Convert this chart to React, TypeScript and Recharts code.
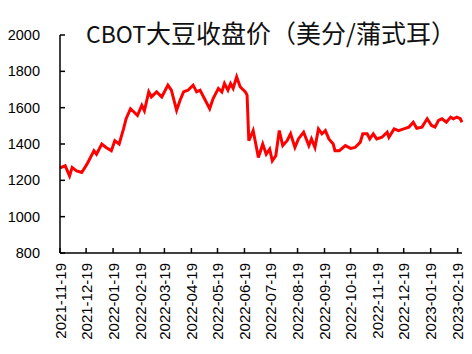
import { Line, LineChart, XAxis, YAxis } from "recharts";

const dates = [
  "2021-11-19", "2021-11-25", "2021-11-30", "2021-12-03", "2021-12-08", "2021-12-14",
  "2021-12-20", "2021-12-28", "2021-12-31", "2022-01-06", "2022-01-11", "2022-01-17",
  "2022-01-21", "2022-01-26", "2022-01-31", "2022-02-03", "2022-02-08", "2022-02-12",
  "2022-02-16", "2022-02-21", "2022-02-24", "2022-03-01", "2022-03-04", "2022-03-10",
  "2022-03-16", "2022-03-23", "2022-03-27", "2022-04-02", "2022-04-06", "2022-04-10",
  "2022-04-15", "2022-04-21", "2022-04-25", "2022-04-29", "2022-05-05", "2022-05-10",
  "2022-05-14", "2022-05-20", "2022-05-24", "2022-05-27", "2022-05-31", "2022-06-03",
  "2022-06-06", "2022-06-10", "2022-06-14", "2022-06-20", "2022-06-22", "2022-06-24",
  "2022-06-29", "2022-07-05", "2022-07-10", "2022-07-14", "2022-07-18", "2022-07-21",
  "2022-07-25", "2022-07-29", "2022-08-02", "2022-08-07", "2022-08-11", "2022-08-16",
  "2022-08-20", "2022-08-26", "2022-09-01", "2022-09-04", "2022-09-08", "2022-09-12",
  "2022-09-16", "2022-09-20", "2022-09-24", "2022-09-29", "2022-10-01", "2022-10-06",
  "2022-10-13", "2022-10-19", "2022-10-24", "2022-10-30", "2022-11-02", "2022-11-07",
  "2022-11-10", "2022-11-14", "2022-11-18", "2022-11-24", "2022-11-30", "2022-12-02",
  "2022-12-08", "2022-12-13", "2022-12-19", "2022-12-25", "2022-12-30", "2023-01-03",
  "2023-01-09", "2023-01-15", "2023-01-20", "2023-01-24", "2023-01-28", "2023-02-01",
  "2023-02-06", "2023-02-11", "2023-02-14", "2023-02-18", "2023-02-22", "2023-02-24",
];

const prices = [
  1268, 1280, 1224, 1271, 1252, 1243,
  1289, 1363, 1344, 1400, 1381, 1363,
  1418, 1400, 1483, 1539, 1594, 1576,
  1557, 1613, 1583, 1687, 1659, 1687,
  1659, 1724, 1696, 1585, 1641, 1687,
  1696, 1724, 1687, 1696, 1641, 1594,
  1650, 1706, 1687, 1733, 1696, 1733,
  1706, 1770, 1715, 1687, 1669, 1418,
  1474, 1326, 1400, 1344, 1372, 1307,
  1335, 1474, 1391, 1418, 1456, 1381,
  1428, 1465, 1391, 1428, 1381, 1483,
  1456, 1474, 1428, 1400, 1363, 1363,
  1391, 1376, 1381, 1409, 1456, 1456,
  1428, 1456, 1428, 1437, 1465, 1437,
  1483, 1474, 1483, 1493, 1520, 1487,
  1493, 1539, 1502, 1493, 1530, 1539,
  1520, 1548, 1539, 1548, 1539, 1520,
];

const monthTicks = [
  "2021-11-19", "2021-12-19", "2022-01-19", "2022-02-19", "2022-03-19", "2022-04-19",
  "2022-05-19", "2022-06-19", "2022-07-19", "2022-08-19", "2022-09-19", "2022-10-19",
  "2022-11-19", "2022-12-19", "2023-01-19", "2023-02-19",
];

const yTicks = [800, 1000, 1200, 1400, 1600, 1800, 2000];

const DAY = 86400000;
const toDay = (s: string) => Date.parse(s) / DAY;
const fromDay = (d: number) => new Date(Math.round(d) * DAY).toISOString().slice(0, 10);

const data = dates.map((d, i) => ({ day: toDay(d), price: prices[i] }));

const tickFont = "'Liberation Sans', Arial, sans-serif";

function DateTick(props: any) {
  const { x, y, payload } = props;
  const ty = y + 10;
  return (
    <g>
      <line x1={x} y1={y} x2={x} y2={y - 5} stroke="#000" strokeWidth={1.5} />
      <text
        x={x}
        y={ty}
        transform={`rotate(-90 ${x} ${ty})`}
        textAnchor="end"
        dominantBaseline="central"
        fontFamily={tickFont}
        fontSize={15}
        fill="#000"
      >
        {fromDay(payload.value)}
      </text>
    </g>
  );
}

function ValueTick(props: any) {
  const { x, y, payload } = props;
  return (
    <g>
      <line x1={x} y1={y} x2={x + 5} y2={y} stroke="#000" strokeWidth={1.5} />
      <text
        x={x - 20}
        y={y}
        textAnchor="end"
        dominantBaseline="central"
        fontFamily={tickFont}
        fontSize={14.5}
        fill="#000"
      >
        {payload.value}
      </text>
    </g>
  );
}

export default function App() {
  return (
    <div style={{ position: "relative", width: 464, height: 346 }}>
      <LineChart width={464} height={346} data={data} margin={{ top: 27, right: 10, bottom: 0, left: 0 }}>
        <XAxis
          dataKey="day"
          type="number"
          scale="time"
          domain={[toDay("2021-11-19"), toDay("2023-02-24")]}
          ticks={monthTicks.map(toDay)}
          interval={0}
          height={101}
          tickSize={0}
          tickMargin={0}
          tickLine={false}
          axisLine={{ stroke: "#000", strokeWidth: 1.5 }}
          tick={<DateTick />}
        />
        <YAxis
          type="number"
          domain={[800, 2000]}
          ticks={yTicks}
          interval={0}
          width={52}
          tickSize={0}
          tickMargin={0}
          tickLine={false}
          axisLine={{ stroke: "#000", strokeWidth: 1.5 }}
          tick={<ValueTick />}
        />
        <Line
          type="linear"
          dataKey="price"
          stroke="#ff0000"
          strokeWidth={3}
          dot={false}
          isAnimationActive={false}
        />
      </LineChart>
      <div
        style={{
          position: "absolute",
          left: 0,
          top: 9,
          width: 526,
          textAlign: "center",
          whiteSpace: "nowrap",
          lineHeight: "30px",
          color: "#111",
          fontFamily: "'Noto Sans CJK SC', sans-serif",
          fontSize: 25,
        }}
      >
        <span style={{ fontSize: 23 }}>CBOT</span>大豆收盘价（美分/蒲式耳）
      </div>
    </div>
  );
}
